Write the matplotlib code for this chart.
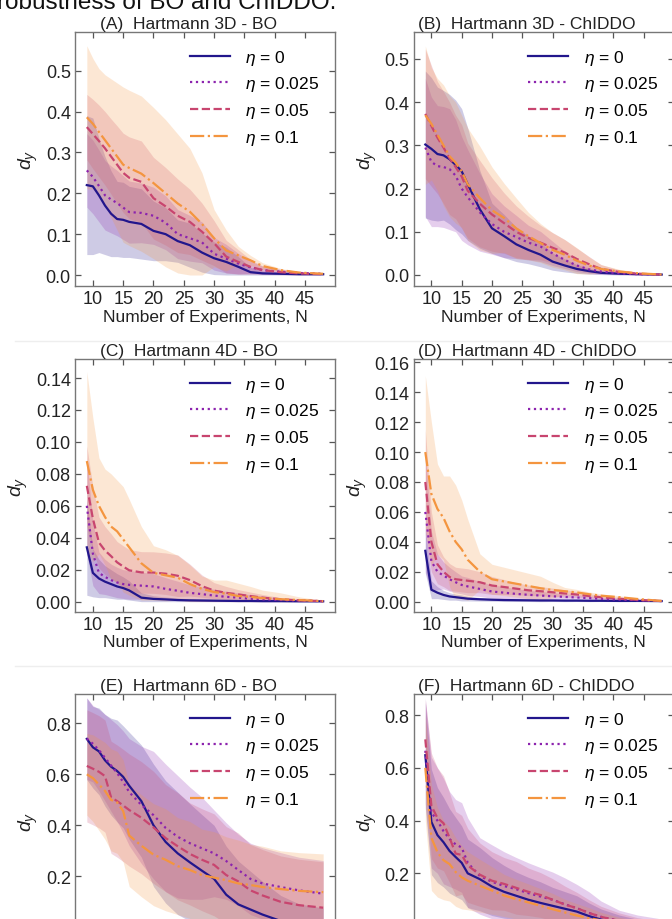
import numpy as np
import matplotlib
matplotlib.use("Agg")
import matplotlib.pyplot as plt
from matplotlib.lines import Line2D

plt.rcParams["font.family"] = ["Liberation Sans", "DejaVu Sans"]
plt.rcParams["mathtext.fontset"] = "custom"
plt.rcParams["mathtext.rm"] = "Liberation Sans"
plt.rcParams["mathtext.it"] = "Liberation Sans:italic"

# ---------------- data ----------------
N = [9, 10, 11, 12, 13, 14, 15, 16, 18, 20, 22, 24, 26, 28, 30, 32, 34, 36, 38, 41, 44, 48]
LABELS = [r"$\eta$ = 0", r"$\eta$ = 0.025", r"$\eta$ = 0.05", r"$\eta$ = 0.1"]
TITLES = ["(A)  Hartmann 3D - BO", "(B)  Hartmann 3D - ChIDDO",
          "(C)  Hartmann 4D - BO", "(D)  Hartmann 4D - ChIDDO",
          "(E)  Hartmann 6D - BO", "(F)  Hartmann 6D - ChIDDO"]
XLABEL = "Number of Experiments, N"
YLABEL = r"$d_y$"
SUPTEXT = "robustness of BO and ChIDDO."

# Panel A: Hartmann 3D - BO (mean, spread)
A_m0 = [0.220, 0.217, 0.195, 0.170, 0.150, 0.137, 0.135, 0.130, 0.125, 0.108, 0.100, 0.083, 0.073, 0.055, 0.041, 0.032, 0.020, 0.007, 0.004, 0.003, 0.002, 0.002]
A_s0 = [0.170, 0.167, 0.140, 0.120, 0.105, 0.092, 0.092, 0.087, 0.086, 0.073, 0.065, 0.052, 0.054, 0.048, 0.040, 0.036, 0.025, 0.012, 0.006, 0.004, 0.003, 0.002]
A_m1 = [0.256, 0.240, 0.218, 0.195, 0.185, 0.176, 0.165, 0.154, 0.152, 0.145, 0.128, 0.100, 0.090, 0.080, 0.052, 0.040, 0.028, 0.019, 0.012, 0.008, 0.005, 0.003]
A_s1 = [0.090, 0.090, 0.088, 0.085, 0.082, 0.080, 0.078, 0.076, 0.073, 0.070, 0.066, 0.060, 0.056, 0.050, 0.040, 0.035, 0.025, 0.015, 0.010, 0.006, 0.004, 0.002]
A_m2 = [0.362, 0.345, 0.328, 0.310, 0.290, 0.270, 0.250, 0.238, 0.228, 0.188, 0.168, 0.145, 0.130, 0.106, 0.078, 0.045, 0.032, 0.020, 0.012, 0.007, 0.004, 0.002]
A_s2 = [0.080, 0.085, 0.088, 0.090, 0.092, 0.095, 0.097, 0.100, 0.100, 0.100, 0.095, 0.090, 0.080, 0.070, 0.055, 0.040, 0.030, 0.018, 0.010, 0.006, 0.004, 0.002]
A_m3 = [0.386, 0.370, 0.350, 0.330, 0.310, 0.290, 0.270, 0.262, 0.248, 0.225, 0.200, 0.175, 0.155, 0.125, 0.090, 0.060, 0.048, 0.036, 0.022, 0.012, 0.006, 0.003]
A_s3 = [0.175, 0.160, 0.155, 0.160, 0.170, 0.180, 0.190, 0.190, 0.190, 0.185, 0.180, 0.170, 0.155, 0.125, 0.070, 0.050, 0.022, 0.012, 0.008, 0.004, 0.002, 0.001]

# Panel B: Hartmann 3D - ChIDDO
B_m0 = [0.302, 0.292, 0.280, 0.277, 0.268, 0.255, 0.240, 0.210, 0.152, 0.108, 0.090, 0.071, 0.058, 0.047, 0.031, 0.022, 0.014, 0.009, 0.005, 0.003, 0.002, 0.001]
B_s0 = [0.170, 0.165, 0.155, 0.150, 0.150, 0.150, 0.145, 0.130, 0.090, 0.058, 0.050, 0.040, 0.032, 0.028, 0.020, 0.015, 0.010, 0.007, 0.004, 0.003, 0.002, 0.001]
B_m1 = [0.295, 0.262, 0.252, 0.250, 0.245, 0.230, 0.200, 0.180, 0.145, 0.118, 0.100, 0.088, 0.075, 0.066, 0.050, 0.035, 0.022, 0.013, 0.008, 0.004, 0.002, 0.001]
B_s1 = [0.160, 0.150, 0.140, 0.140, 0.140, 0.130, 0.120, 0.110, 0.090, 0.070, 0.060, 0.050, 0.040, 0.035, 0.028, 0.020, 0.014, 0.009, 0.006, 0.003, 0.002, 0.001]
B_m2 = [0.373, 0.345, 0.318, 0.295, 0.270, 0.250, 0.228, 0.195, 0.165, 0.140, 0.120, 0.100, 0.086, 0.075, 0.063, 0.052, 0.037, 0.025, 0.014, 0.007, 0.003, 0.001]
B_s2 = [0.150, 0.140, 0.130, 0.130, 0.130, 0.120, 0.120, 0.110, 0.100, 0.085, 0.070, 0.060, 0.050, 0.040, 0.035, 0.030, 0.025, 0.018, 0.010, 0.005, 0.003, 0.001]
B_m3 = [0.370, 0.350, 0.325, 0.300, 0.275, 0.260, 0.240, 0.210, 0.178, 0.150, 0.132, 0.108, 0.090, 0.074, 0.058, 0.047, 0.033, 0.022, 0.014, 0.008, 0.004, 0.001]
B_s3 = [0.160, 0.130, 0.130, 0.140, 0.140, 0.140, 0.130, 0.130, 0.120, 0.100, 0.080, 0.070, 0.055, 0.045, 0.040, 0.035, 0.030, 0.020, 0.010, 0.005, 0.003, 0.001]

# Panel C: Hartmann 4D - BO
C_m0 = [0.034, 0.018, 0.0145, 0.0125, 0.011, 0.0095, 0.0085, 0.007, 0.0025, 0.0017, 0.0014, 0.0010, 0.0008, 0.0007, 0.0006, 0.0005, 0.0004, 0.0004, 0.0003, 0.0003, 0.0002, 0.0002]
C_s0 = [0.030, 0.015, 0.012, 0.010, 0.009, 0.008, 0.007, 0.006, 0.003, 0.002, 0.0015, 0.0012, 0.0010, 0.0009, 0.0008, 0.0007, 0.0006, 0.0005, 0.0004, 0.0003, 0.0003, 0.0002]
C_m1 = [0.060, 0.030, 0.018, 0.0155, 0.0135, 0.012, 0.011, 0.0105, 0.010, 0.0095, 0.008, 0.0068, 0.0055, 0.0047, 0.0038, 0.0030, 0.0025, 0.0018, 0.0015, 0.0010, 0.0007, 0.0003]
C_s1 = [0.030, 0.020, 0.013, 0.011, 0.010, 0.0095, 0.009, 0.009, 0.0085, 0.008, 0.007, 0.006, 0.005, 0.0045, 0.004, 0.0035, 0.003, 0.0025, 0.002, 0.0012, 0.0008, 0.0003]
C_m2 = [0.0725, 0.052, 0.037, 0.032, 0.0285, 0.0246, 0.022, 0.0196, 0.0183, 0.0182, 0.0175, 0.0162, 0.0135, 0.0097, 0.0069, 0.0055, 0.0045, 0.0035, 0.0025, 0.0015, 0.0008, 0.0003]
C_s2 = [0.025, 0.020, 0.016, 0.015, 0.014, 0.013, 0.013, 0.013, 0.013, 0.013, 0.013, 0.013, 0.010, 0.007, 0.005, 0.004, 0.003, 0.0025, 0.002, 0.001, 0.0006, 0.0003]
C_m3 = [0.088, 0.070, 0.060, 0.053, 0.047, 0.044, 0.039, 0.034, 0.024, 0.018, 0.0165, 0.015, 0.011, 0.008, 0.006, 0.005, 0.0035, 0.003, 0.0022, 0.0015, 0.001, 0.0003]
C_s3 = [0.056, 0.045, 0.030, 0.030, 0.033, 0.032, 0.033, 0.030, 0.023, 0.017, 0.016, 0.014, 0.012, 0.008, 0.0075, 0.0085, 0.008, 0.0065, 0.005, 0.004, 0.002, 0.0005]

# Panel D: Hartmann 4D - ChIDDO
D_m0 = [0.034, 0.008, 0.006, 0.0045, 0.0035, 0.003, 0.0025, 0.002, 0.0016, 0.0013, 0.0011, 0.0010, 0.0009, 0.0008, 0.0008, 0.0007, 0.0007, 0.0006, 0.0006, 0.0005, 0.0005, 0.0004]
D_s0 = [0.015, 0.006, 0.004, 0.003, 0.0025, 0.002, 0.002, 0.0015, 0.0012, 0.001, 0.001, 0.0009, 0.0008, 0.0008, 0.0007, 0.0007, 0.0006, 0.0006, 0.0005, 0.0005, 0.0004, 0.0004]
D_m1 = [0.060, 0.027, 0.020, 0.0175, 0.015, 0.013, 0.0112, 0.0102, 0.0085, 0.0068, 0.006, 0.0052, 0.0046, 0.0041, 0.0036, 0.0032, 0.0028, 0.0024, 0.0019, 0.0014, 0.001, 0.0004]
D_s1 = [0.040, 0.020, 0.012, 0.009, 0.008, 0.007, 0.006, 0.006, 0.005, 0.0045, 0.004, 0.0035, 0.003, 0.0028, 0.0025, 0.002, 0.0018, 0.0015, 0.0012, 0.0008, 0.0005, 0.0002]
D_m2 = [0.080, 0.040, 0.025, 0.020, 0.0165, 0.015, 0.0145, 0.014, 0.013, 0.0108, 0.0098, 0.0087, 0.0076, 0.007, 0.0063, 0.0055, 0.0048, 0.0038, 0.003, 0.002, 0.0012, 0.0004]
D_s2 = [0.035, 0.020, 0.013, 0.010, 0.009, 0.008, 0.008, 0.008, 0.007, 0.006, 0.005, 0.004, 0.0035, 0.003, 0.0028, 0.0025, 0.002, 0.0015, 0.0012, 0.0008, 0.0005, 0.0002]
D_m3 = [0.100, 0.072, 0.062, 0.056, 0.047, 0.040, 0.035, 0.028, 0.020, 0.015, 0.0135, 0.012, 0.0105, 0.009, 0.0078, 0.007, 0.0062, 0.005, 0.004, 0.003, 0.0018, 0.0005]
D_s3 = [0.051, 0.048, 0.030, 0.028, 0.037, 0.038, 0.033, 0.027, 0.012, 0.010, 0.0095, 0.009, 0.0085, 0.008, 0.0052, 0.0025, 0.002, 0.0015, 0.0012, 0.001, 0.0007, 0.0002]

# Panel E: Hartmann 6D - BO
E_m0 = [0.739, 0.706, 0.690, 0.655, 0.630, 0.613, 0.590, 0.555, 0.495, 0.400, 0.335, 0.290, 0.255, 0.222, 0.190, 0.128, 0.090, 0.070, 0.050, 0.025, 0.012, 0.006]
E_s0 = [0.160, 0.160, 0.170, 0.180, 0.190, 0.200, 0.200, 0.210, 0.220, 0.240, 0.240, 0.240, 0.230, 0.220, 0.210, 0.190, 0.170, 0.150, 0.130, 0.100, 0.080, 0.070]
E_m1 = [0.740, 0.720, 0.695, 0.665, 0.635, 0.605, 0.570, 0.530, 0.480, 0.440, 0.390, 0.355, 0.330, 0.310, 0.290, 0.260, 0.225, 0.190, 0.172, 0.158, 0.145, 0.132]
E_s1 = [0.160, 0.150, 0.160, 0.170, 0.180, 0.190, 0.200, 0.210, 0.230, 0.250, 0.250, 0.240, 0.220, 0.200, 0.170, 0.150, 0.140, 0.140, 0.140, 0.135, 0.130, 0.130]
E_m2 = [0.633, 0.622, 0.610, 0.593, 0.510, 0.495, 0.478, 0.460, 0.430, 0.392, 0.350, 0.318, 0.288, 0.265, 0.245, 0.205, 0.180, 0.145, 0.125, 0.100, 0.087, 0.077]
E_s2 = [0.220, 0.220, 0.220, 0.220, 0.220, 0.220, 0.220, 0.220, 0.220, 0.220, 0.210, 0.210, 0.200, 0.200, 0.200, 0.190, 0.190, 0.180, 0.180, 0.180, 0.180, 0.180]
E_m3 = [0.600, 0.585, 0.560, 0.535, 0.500, 0.490, 0.456, 0.360, 0.320, 0.285, 0.265, 0.240, 0.225, 0.205, 0.195, 0.185, 0.172, 0.166, 0.158, 0.150, 0.143, 0.138]
E_s3 = [0.160, 0.170, 0.180, 0.190, 0.200, 0.200, 0.200, 0.200, 0.200, 0.200, 0.200, 0.190, 0.190, 0.180, 0.180, 0.170, 0.170, 0.160, 0.160, 0.150, 0.150, 0.150]

# Panel F: Hartmann 6D - ChIDDO
F_m0 = [0.648, 0.395, 0.345, 0.318, 0.285, 0.262, 0.240, 0.200, 0.178, 0.150, 0.130, 0.115, 0.100, 0.088, 0.077, 0.066, 0.055, 0.038, 0.025, 0.012, 0.006, 0.003]
F_s0 = [0.200, 0.200, 0.180, 0.170, 0.160, 0.150, 0.140, 0.130, 0.120, 0.110, 0.100, 0.090, 0.085, 0.080, 0.070, 0.065, 0.060, 0.050, 0.040, 0.030, 0.020, 0.010]
F_m1 = [0.665, 0.430, 0.400, 0.360, 0.330, 0.310, 0.298, 0.240, 0.190, 0.168, 0.152, 0.140, 0.125, 0.112, 0.100, 0.083, 0.068, 0.050, 0.035, 0.020, 0.012, 0.007]
F_s1 = [0.200, 0.210, 0.200, 0.200, 0.180, 0.170, 0.170, 0.170, 0.145, 0.140, 0.130, 0.120, 0.115, 0.110, 0.105, 0.100, 0.090, 0.080, 0.060, 0.040, 0.030, 0.020]
F_m2 = [0.708, 0.456, 0.410, 0.390, 0.335, 0.275, 0.270, 0.230, 0.195, 0.172, 0.160, 0.145, 0.130, 0.118, 0.100, 0.082, 0.068, 0.050, 0.035, 0.020, 0.012, 0.007]
F_s2 = [0.150, 0.200, 0.190, 0.180, 0.170, 0.160, 0.150, 0.140, 0.120, 0.110, 0.100, 0.100, 0.090, 0.085, 0.080, 0.070, 0.060, 0.050, 0.040, 0.030, 0.020, 0.010]
F_m3 = [0.600, 0.335, 0.280, 0.250, 0.235, 0.205, 0.185, 0.172, 0.153, 0.135, 0.116, 0.102, 0.090, 0.077, 0.064, 0.052, 0.040, 0.030, 0.022, 0.013, 0.008, 0.005]
F_s3 = [0.200, 0.200, 0.170, 0.150, 0.140, 0.130, 0.120, 0.110, 0.100, 0.090, 0.080, 0.075, 0.070, 0.065, 0.060, 0.050, 0.045, 0.040, 0.030, 0.020, 0.015, 0.010]

# y tick values and visible y ranges per panel
YTICKS = [[0.0, 0.1, 0.2, 0.3, 0.4, 0.5], [0.0, 0.1, 0.2, 0.3, 0.4, 0.5],
          [0.0, 0.02, 0.04, 0.06, 0.08, 0.10, 0.12, 0.14],
          [0.0, 0.02, 0.04, 0.06, 0.08, 0.10, 0.12, 0.14, 0.16],
          [0.0, 0.2, 0.4, 0.6, 0.8], [0.0, 0.2, 0.4, 0.6, 0.8]]
YLIMS = [(-0.0269, 0.5947), (-0.0255, 0.5625), (-0.0063, 0.1519),
         (-0.0067, 0.1622), (-0.081, 0.915), (-0.083, 0.880)]
XTICKS = [10, 15, 20, 25, 30, 35, 40, 45]

MEANS = [[A_m0, A_m1, A_m2, A_m3], [B_m0, B_m1, B_m2, B_m3],
         [C_m0, C_m1, C_m2, C_m3], [D_m0, D_m1, D_m2, D_m3],
         [E_m0, E_m1, E_m2, E_m3], [F_m0, F_m1, F_m2, F_m3]]
SPREADS = [[A_s0, A_s1, A_s2, A_s3], [B_s0, B_s1, B_s2, B_s3],
           [C_s0, C_s1, C_s2, C_s3], [D_s0, D_s1, D_s2, D_s3],
           [E_s0, E_s1, E_s2, E_s3], [F_s0, F_s1, F_s2, F_s3]]

# ---------------- style ----------------
COLORS = ["#22168c", "#8c23ae", "#c8456f", "#f4953f"]
STYLES = ["-", ":", "--", "-."]
W, H = 672.0, 920.0
COL_LEFT = [75.0, 413.5]
AX_W = 260.0
ROW_TOP = [33.0, 360.0, 695.0]
ROW_H = [254.0, 252.7, 254.0]
TITLE_X = [0.096, 0.017]
SEPARATORS_Y = [342.0, 667.0]

fig = plt.figure(figsize=(W / 100, H / 100), dpi=100)
fig.patch.set_facecolor("white")

fig.text(-0.004, 1 - 9.0 / H, SUPTEXT, fontsize=17.5, va="baseline", ha="left", color="#111111")

# faint panel-image separators seen in the reference
for ysep in SEPARATORS_Y:
    fig.add_artist(Line2D([15 / W, 1.0], [1 - ysep / H, 1 - ysep / H],
                          transform=fig.transFigure, color="#eeeeee", linewidth=1.0))

x = np.array(N)
for i in range(6):
    r, c = divmod(i, 2)
    left = COL_LEFT[c] / W
    bottom = 1 - (ROW_TOP[r] + ROW_H[r]) / H
    ax = fig.add_axes([left, bottom, AX_W / W, ROW_H[r] / H])
    for k in range(4):
        m = np.array(MEANS[i][k])
        s = np.array(SPREADS[i][k])
        ax.fill_between(x, np.clip(m - s, 0, None), m + s, color=COLORS[k],
                        alpha=0.22, linewidth=0, zorder=1)
    for k in range(4):
        ax.plot(x, MEANS[i][k], color=COLORS[k], linestyle=STYLES[k],
                linewidth=1.6, label=LABELS[k], zorder=3)
    ax.set_xlim(7.05, 49.95)
    ax.set_ylim(*YLIMS[i])
    ax.set_xticks(XTICKS)
    ax.set_yticks(YTICKS[i])
    ax.tick_params(direction="in", top=True, right=True, length=4.5, width=0.9,
                   color="#555555", labelsize=13, labelcolor="#222222", pad=3)
    for sp in ax.spines.values():
        sp.set_color("#777777")
        sp.set_linewidth(1.0)
    ax.set_xlabel(XLABEL, fontsize=12.5, labelpad=1, color="#222222")
    ax.set_ylabel(YLABEL, fontsize=14, labelpad=4, color="#222222")
    ax.text(TITLE_X[c], 1.004, TITLES[i], transform=ax.transAxes, ha="left",
            va="bottom", fontsize=12.5, color="#222222")
    ax.legend(loc="upper right", frameon=False, fontsize=12.5, handlelength=2.3,
              handletextpad=0.9, labelspacing=0.45)

fig.savefig("out.png", dpi=100)
